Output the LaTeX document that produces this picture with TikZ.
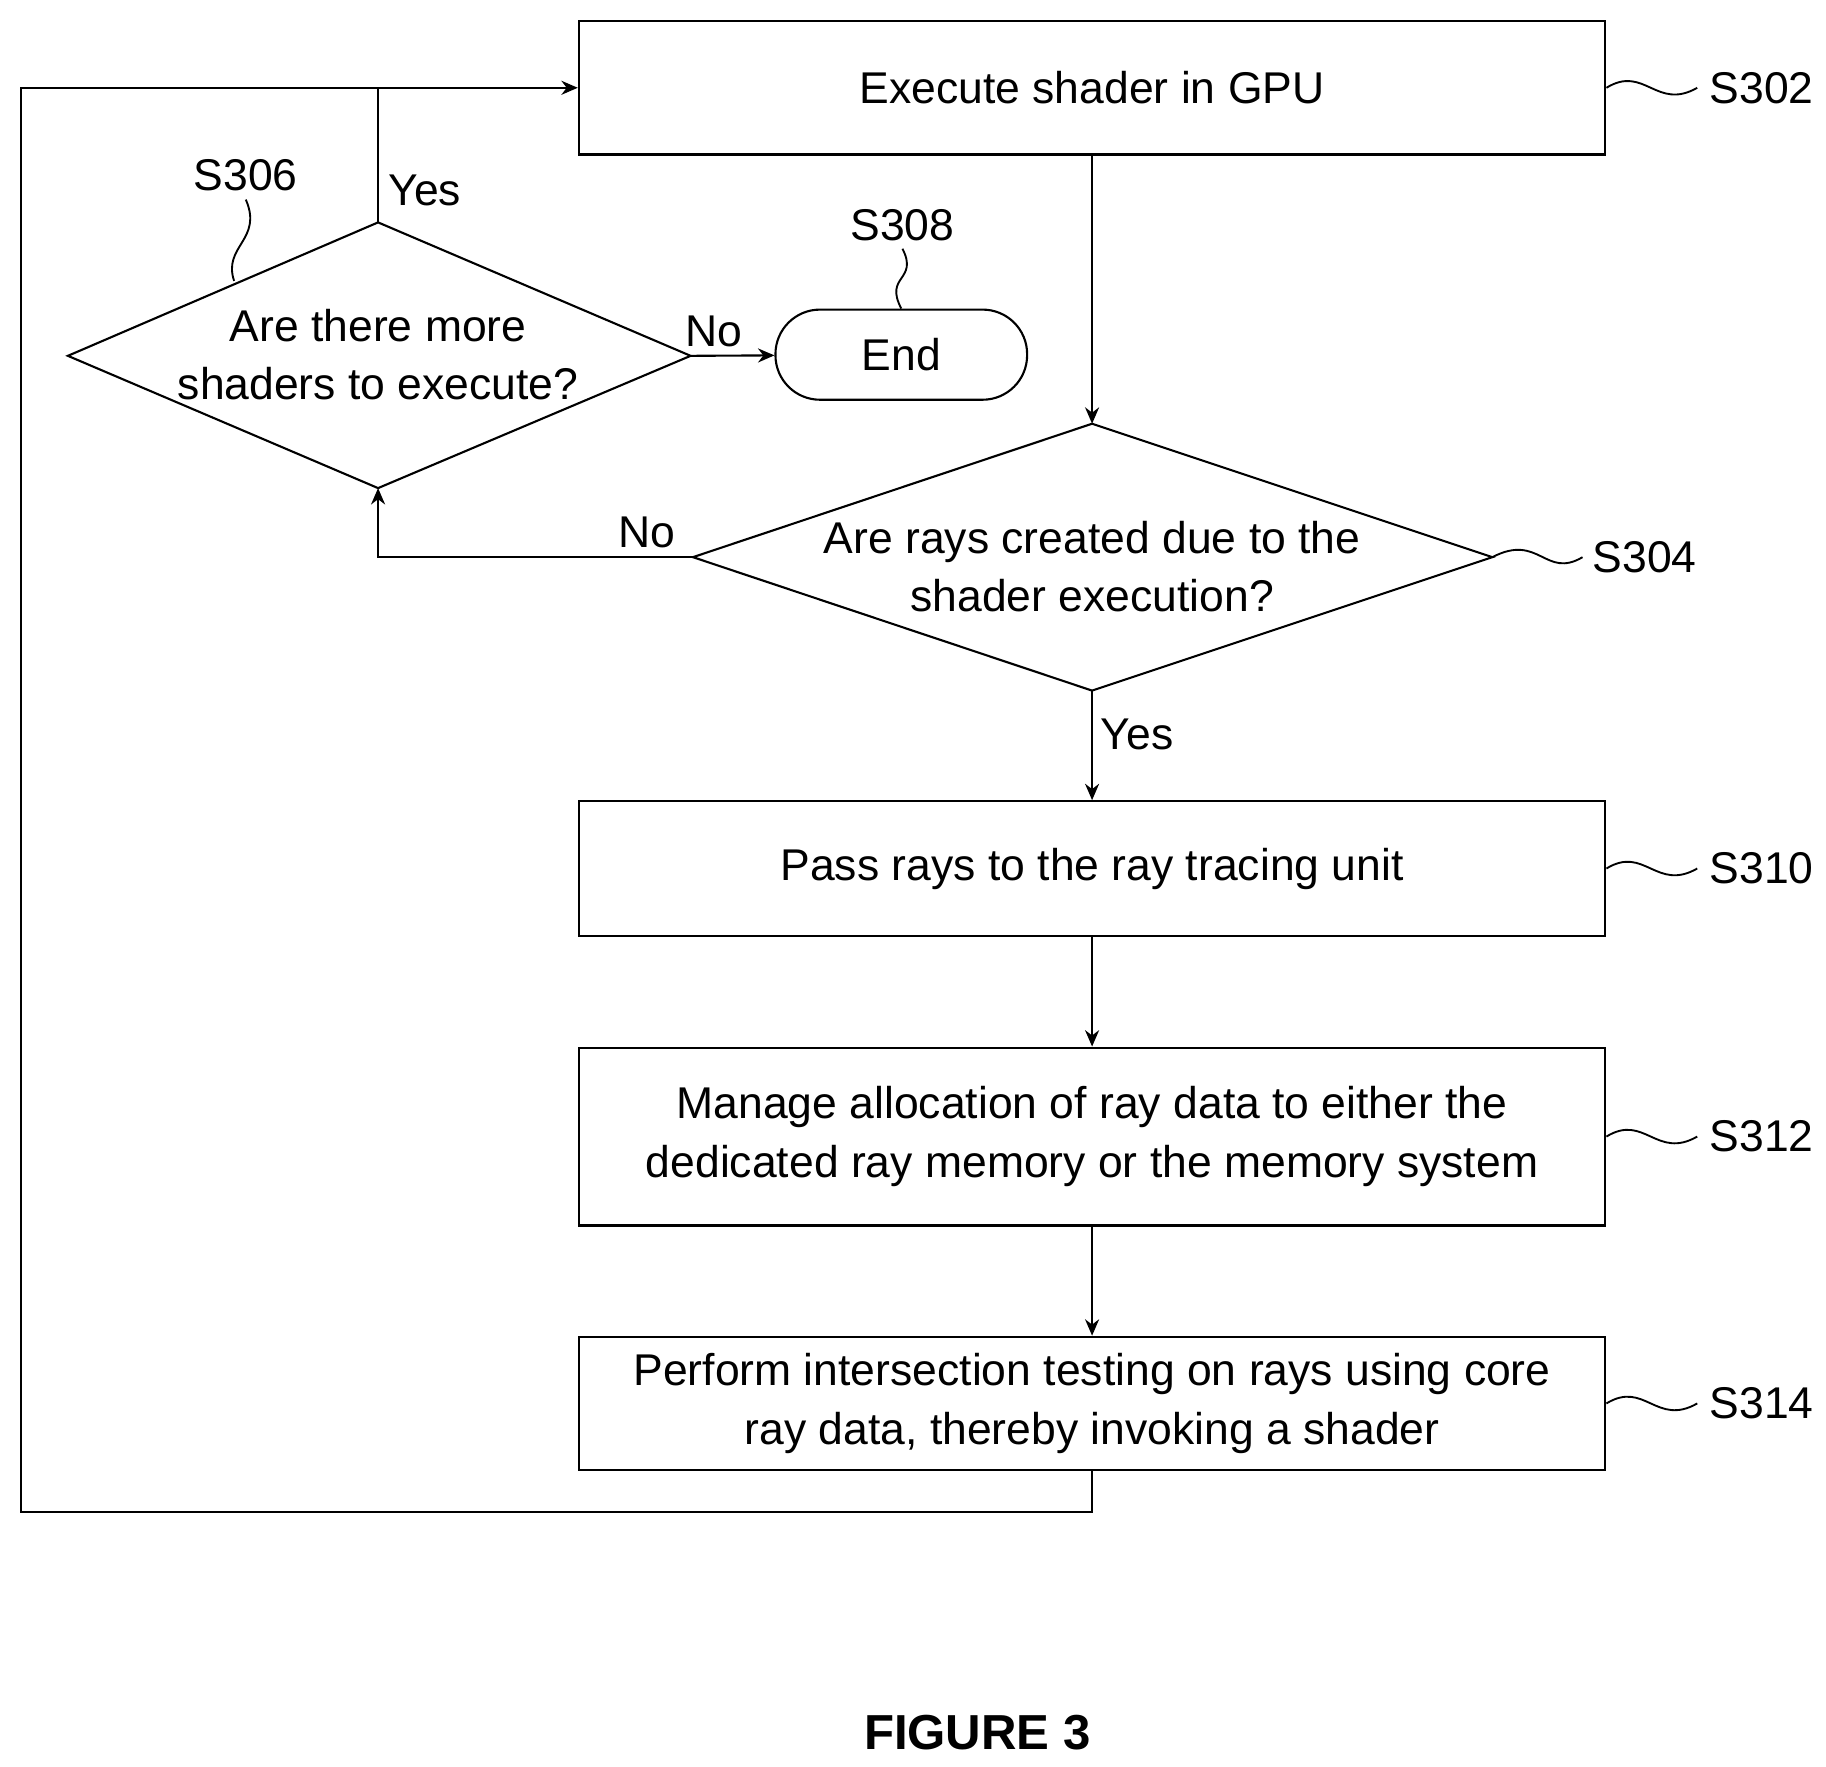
\documentclass[tikz,border=0pt]{standalone}
\usepackage{fontspec}
\setmainfont{Liberation Sans}
\usetikzlibrary{arrows.meta}
\begin{document}
\begin{tikzpicture}[x=0.5pt,y=-0.5pt,
  every node/.style={font=\fontsize{19}{25}\selectfont},
  procbox/.style={draw,line width=0.9pt,minimum width=438.5pt,align=center,inner sep=0pt},
  flow/.style={line width=0.9pt,-{Stealth[length=7pt,width=6pt]}},
  plain/.style={line width=0.9pt},
  wiggle/.style={line width=0.8pt}]
\useasboundingbox (0,0) rectangle (1560,1509);

% process boxes
\node[procbox,minimum height=57pt] (s302) at (933,75) {Execute shader in GPU};
\node[procbox,minimum height=57.5pt] (s310) at (933,742) {Pass rays to the ray tracing unit};
\node[procbox,minimum height=76pt] (s312) at (933,971) {Manage allocation of ray data to either the\\dedicated ray memory or the memory system};
\node[procbox,minimum height=57pt] (s314) at (933,1199) {Perform intersection testing on rays using core\\ray data, thereby invoking a shader};
\node[draw,line width=0.9pt,rounded corners=19pt,minimum width=107.5pt,minimum height=38.5pt] (end) at (770,303) {End};

% decision S304
\coordinate (d4n) at (933,362);
\coordinate (d4e) at (1275,476);
\coordinate (d4s) at (933,590);
\coordinate (d4w) at (592,476);
\draw[plain] (d4n) -- (d4e) -- (d4s) -- (d4w) -- cycle;
\node[align=center] (s304) at (933,484) {Are rays created due to the\\shader execution?};

% decision S306
\coordinate (d6n) at (323,190);
\coordinate (d6e) at (590,304);
\coordinate (d6s) at (323,417);
\coordinate (d6w) at (58,304);
\draw[plain] (d6n) -- (d6e) -- (d6s) -- (d6w) -- cycle;
\node[align=center] (s306) at (323,303) {Are there more\\shaders to execute?};

% connectors
\draw[flow] (s302) -- (d4n);
\draw[flow] (d4s) -- node[right,pos=0.4] {Yes} (s310);
\draw[flow] (s310) -- (s312);
\draw[flow] (s312) -- (s314);
\draw[flow] (d4w) -- (323,476) -- (d6s);
\node (no1) at (553,455) {No};
\draw[flow] (d6e) -- (end);
\node (no2) at (610,283) {No};
\coordinate (loopbl) at (18,1292);
\draw[flow] (s314.south) -- (933,1292) -- (loopbl) -- (18,75) -- (s302.west);
\draw[plain] (d6n) -- (323,75);
\node (yes2) at (363,163) {Yes};

% step labels
\node (l302) at (1505,75) {S302};
\node (l304) at (1405,476) {S304};
\node (l306) at (210,150) {S306};
\node (l308) at (771,192) {S308};
\node (l310) at (1505,742) {S310};
\node (l312) at (1505,971) {S312};
\node (l314) at (1505,1199) {S314};
\draw[wiggle] (s302.east) .. controls (1405,55) and (1415,95) .. (1450,75);
\draw[wiggle] (1275,476) .. controls (1315,455) and (1320,495) .. (1352,476);
\draw[wiggle] (s310.east) .. controls (1405,722) and (1415,762) .. (1450,742);
\draw[wiggle] (s312.east) .. controls (1405,951) and (1415,991) .. (1450,971);
\draw[wiggle] (s314.east) .. controls (1405,1179) and (1415,1219) .. (1450,1199);
\draw[wiggle] (l306.south) .. controls (225,205) and (190,210) .. (200,240);
\draw[wiggle] (l308.south) .. controls (785,240) and (755,235) .. (end.north);

\node[font=\fontsize{21}{25}\selectfont\bfseries] (fig) at (835,1480) {FIGURE 3};
\end{tikzpicture}
\end{document}
